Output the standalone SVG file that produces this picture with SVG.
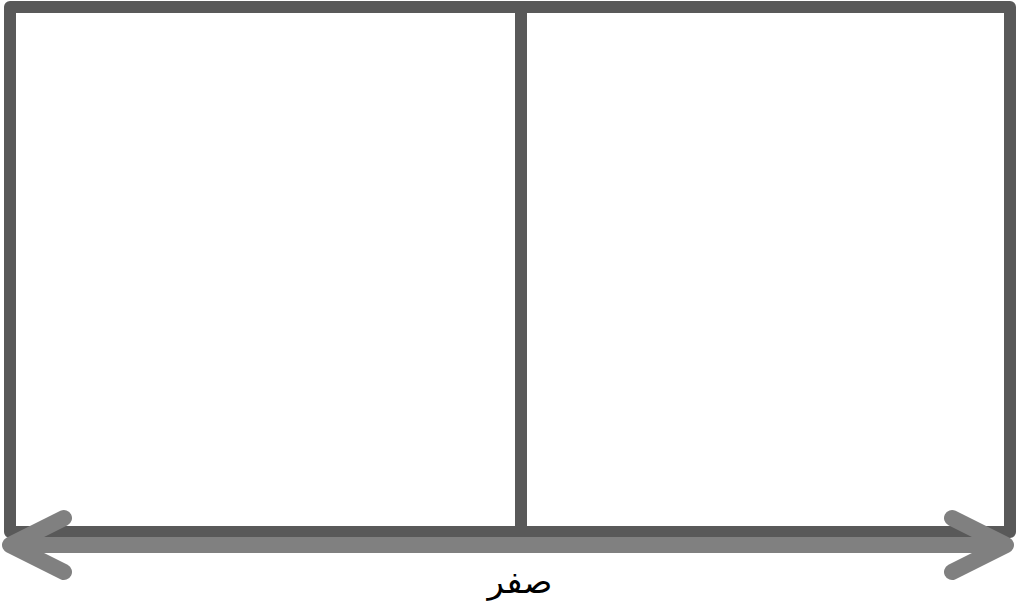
<svg xmlns="http://www.w3.org/2000/svg" width="1016" height="602" viewBox="0 0 1016 602">
<style>
.box{fill:#ffffff;stroke:#595959;stroke-width:12;stroke-linejoin:round}
.div{stroke:#595959;stroke-width:12}
.axis{fill:none;stroke:#808080;stroke-width:16;stroke-linecap:round;stroke-linejoin:round}
.lbl{font-family:"Liberation Sans","DejaVu Sans",sans-serif;font-size:34px;fill:#000000;text-anchor:middle}
</style>
<g id="frame">
<rect class="box" x="10" y="7" width="1000" height="525"/>
<line class="div" x1="521" y1="7" x2="521" y2="532"/>
</g>
<g id="connectors">
<line class="axis" x1="10" y1="545" x2="1006" y2="545" style="stroke-linecap:butt"/>
<polyline class="axis" points="64,518 10,545 64,572"/>
<polyline class="axis" points="952,518 1006,545 952,572"/>
</g>
<g id="label">
<text class="lbl" x="520" y="593" direction="rtl">صفر</text>
</g>
</svg>
